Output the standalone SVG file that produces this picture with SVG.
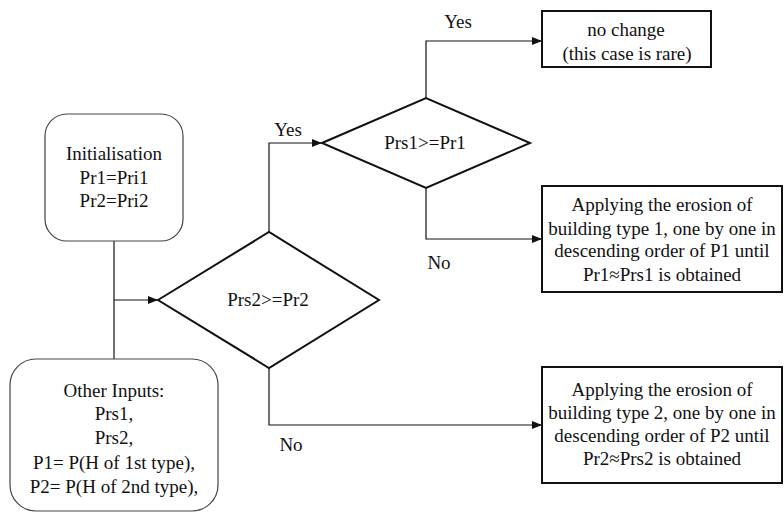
<svg xmlns="http://www.w3.org/2000/svg" width="784" height="512" viewBox="0 0 784 512" font-family="'Liberation Serif', 'Times New Roman', 'DejaVu Serif', serif">
<style>
text{font-family:'Liberation Serif','Times New Roman',serif;font-size:19px;fill:#111;text-anchor:middle}
.rbox{fill:#fff;stroke:#444;stroke-width:1.2}
.box{fill:#fff;stroke:#111;stroke-width:2}
.dia{fill:#fff;stroke:#111;stroke-width:2}
.con{fill:none;stroke:#111;stroke-width:1.2}
</style>
<defs>
<marker id="arr" viewBox="0 0 10 10" refX="10" refY="5" markerWidth="10" markerHeight="10" markerUnits="userSpaceOnUse" orient="auto">
<path d="M0,1 L10,5 L0,9 z" fill="#111"/>
</marker>
</defs>
<rect width="784" height="512" fill="#fff"/>
<g id="connectors">
<path class="con" d="M114,241 V359"/>
<path class="con" d="M114,300 H158" marker-end="url(#arr)"/>
<path class="con" d="M269,232 V143 H322" marker-end="url(#arr)"/>
<path class="con" d="M426,98 V41 H542" marker-end="url(#arr)"/>
<path class="con" d="M426,188 V239 H542" marker-end="url(#arr)"/>
<path class="con" d="M269,368 V425 H542" marker-end="url(#arr)"/>
<text x="288" y="136">Yes</text>
<text x="458" y="28">Yes</text>
<text x="439" y="269">No</text>
<text x="291" y="451">No</text>
</g>
<g id="init">
<rect class="rbox" x="45" y="114" width="138" height="127" rx="22"/>
<text x="114" y="160">Initialisation</text>
<text x="114" y="184">Pr1=Pri1</text>
<text x="114" y="207">Pr2=Pri2</text>
</g>
<g id="inputs">
<rect class="rbox" x="10" y="359" width="208" height="152" rx="26"/>
<text x="114" y="397">Other Inputs:</text>
<text x="114" y="420">Prs1,</text>
<text x="114" y="444">Prs2,</text>
<text x="114" y="469">P1= P(H of 1st type),</text>
<text x="114" y="493">P2= P(H of 2nd type),</text>
</g>
<g id="d2">
<path class="dia" d="M158,300 L269,232 L379,300 L269,368 Z"/>
<text x="268" y="306">Prs2&gt;=Pr2</text>
</g>
<g id="d1">
<path class="dia" d="M322,143 L426,98 L530,143 L426,188 Z"/>
<text x="425" y="149">Prs1&gt;=Pr1</text>
</g>
<g id="nochange">
<rect class="box" x="542" y="11" width="169" height="56"/>
<text x="626" y="36">no change</text>
<text x="627" y="60">(this case is rare)</text>
</g>
<g id="erosion1">
<rect class="box" x="542" y="186" width="240" height="106"/>
<text x="662" y="211">Applying the erosion of</text>
<text x="662" y="235">building type 1, one by one in</text>
<text x="662" y="257">descending order of P1 until</text>
<text x="662" y="281">Pr1≈Prs1 is obtained</text>
</g>
<g id="erosion2">
<rect class="box" x="542" y="367" width="240" height="116"/>
<text x="662" y="396">Applying the erosion of</text>
<text x="662" y="419">building type 2, one by one in</text>
<text x="662" y="442">descending order of P2 until</text>
<text x="662" y="465">Pr2≈Prs2 is obtained</text>
</g>
</svg>
